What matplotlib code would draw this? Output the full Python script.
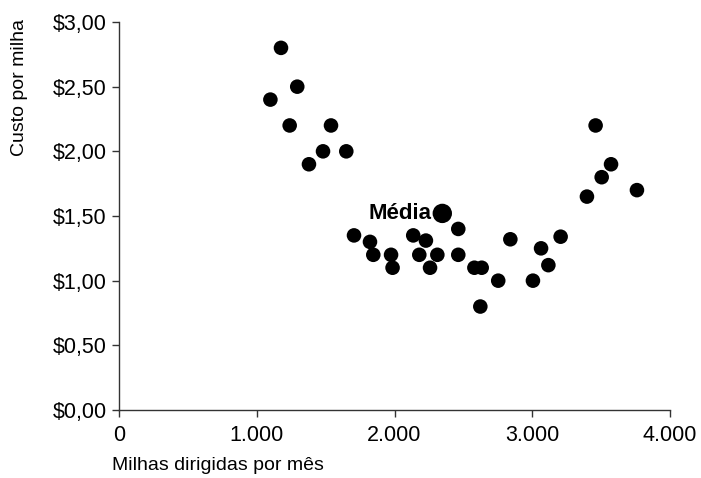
import matplotlib.pyplot as plt
from matplotlib.ticker import FuncFormatter

plt.rcParams['font.family'] = ['Liberation Sans', 'DejaVu Sans']

milhas = [1176, 1294, 1099, 1239, 1539, 1481, 1650, 1379,
          3460, 3572, 3504, 3760, 3397,
          2463, 1706, 1822, 2136, 2228, 2841, 3206, 3064,
          1846, 1975, 1986, 2180, 2311, 2258, 2463,
          2580, 2633, 2753, 3005, 3117, 2623]
custo = [2.80, 2.50, 2.40, 2.20, 2.20, 2.00, 2.00, 1.90,
         2.20, 1.90, 1.80, 1.70, 1.65,
         1.40, 1.35, 1.30, 1.35, 1.31, 1.32, 1.34, 1.25,
         1.20, 1.20, 1.10, 1.20, 1.20, 1.10, 1.20,
         1.10, 1.10, 1.00, 1.00, 1.12, 0.80]
media_x, media_y = 2347, 1.52

fig = plt.figure(figsize=(7.01, 4.78), dpi=100)
ax = fig.add_axes([119/701, 1 - 410/478, 551/701, 388/478])

ax.scatter(milhas, custo, s=110, color='black', edgecolors='none', zorder=3)
ax.scatter([media_x], [media_y], s=195, color='black', edgecolors='none', zorder=3)
ax.annotate('Média', (media_x, media_y), xytext=(-8, 0), textcoords='offset points',
            ha='right', va='center', fontsize=16, fontweight='bold')

ax.set_xlim(0, 4000)
ax.set_ylim(0, 3)
ax.set_xticks([0, 1000, 2000, 3000, 4000])
ax.set_yticks([0, 0.5, 1, 1.5, 2, 2.5, 3])
ax.xaxis.set_major_formatter(FuncFormatter(lambda v, p: f"{int(v):,}".replace(',', '.')))
ax.yaxis.set_major_formatter(FuncFormatter(lambda v, p: f"${v:.2f}".replace('.', ',')))

for s in ['top', 'right']:
    ax.spines[s].set_visible(False)
for s in ['left', 'bottom']:
    ax.spines[s].set_color('#333333')
    ax.spines[s].set_linewidth(1.0)
ax.tick_params(length=5, width=1, color='#333333', labelsize=15.5)
ax.tick_params(axis='x', pad=6)
ax.tick_params(axis='y', pad=4)

fig.text(112/701, 1 - 466/478, 'Milhas dirigidas por mês', fontsize=14, ha='left', va='center')
fig.text(20/701, 1 - 88/478, 'Custo por milha', fontsize=14, rotation=90, ha='center', va='center')

fig.savefig('out.png', dpi=100)
